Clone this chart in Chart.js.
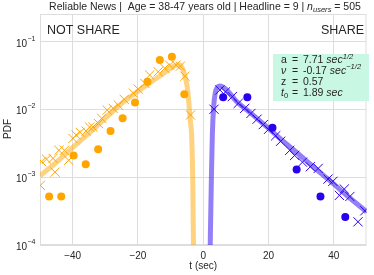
<!DOCTYPE html>
<html>
<head>
<meta charset="utf-8">
<script src="https://cdn.jsdelivr.net/npm/chart.js@4.4.0/dist/chart.umd.min.js"></script>
<style>
html, body { margin: 0; padding: 0; background: #fff; }
#wrap { width: 374px; height: 275px; }
</style>
</head>
<body>
<div id="wrap"><canvas id="pdfChart" width="374" height="275"></canvas></div>
<script>
// datos
const notShareDotT   = [-47.2, -43.5, -39.7, -36.0, -32.2, -28.4, -24.7, -20.9, -17.1, -13.3, -9.6, -5.8];
const notShareDotPdf = [5.2e-4, 5.2e-4, 2.1e-3, 1.55e-3, 2.6e-3, 4.8e-3, 7.4e-3, 0.0127, 0.0256, 0.0536, 0.060, 0.0168];

const notShareCrossT   = [-49.9, -49.5, -48.0, -46.0, -45.4, -44.2, -42.5, -41.2, -39.9, -38.9, -37.7, -35.9, -34.8, -33.8, -32.1, -31.1,
                          -29.4, -27.6, -26.0, -24.2, -21.4, -19.9, -17.9, -16.4, -13.8, -11.8, -10.3, -8.3, -7.0, -5.6, -3.9];
const notShareCrossPdf = [7.6e-4, 1.7e-3, 1.85e-3, 1.9e-3, 1.19e-3, 2.5e-3, 2.5e-3, 1.78e-3, 3.74e-3, 4.2e-3, 4.6e-3, 4.8e-3, 5.5e-3, 5.5e-3, 6.2e-3, 7.4e-3,
                          9.8e-3, 0.0104, 0.0116, 0.0141, 0.0174, 0.020, 0.0243, 0.0323, 0.0361, 0.0406, 0.0453, 0.0453, 0.0437, 0.031, 8.3e-3];

const shareDotT   = [6.1, 13.5, 21.2, 28.6, 35.9, 43.5];
const shareDotPdf = [0.0152, 0.0152, 5.37e-3, 1.3e-3, 5.2e-4, 2.6e-4];

const shareCrossT   = [3.3, 5.1, 6.8, 8.9, 10.7, 12.7, 14.6, 16.5, 18.4, 20.0, 22.2, 23.7, 26.5, 28.0, 30.4, 32.8,
                       35.2, 38.2, 39.7, 41.7, 43.2, 44.9, 47.4, 49.5];
const shareCrossPdf = [0.0101, 0.0194, 0.0182, 0.0155, 0.0123, 0.0104, 8.75e-3, 7.2e-3, 6.0e-3, 5.1e-3, 4.1e-3, 3.4e-3, 2.5e-3, 2.1e-3, 1.67e-3, 1.43e-3,
                       1.35e-3, 9.4e-4, 8.7e-4, 5.4e-4, 6.7e-4, 5.2e-4, 2.2e-4, 3.2e-4];

// curvas de ajuste (leidas punto a punto)
const notShareFitT   = [-50, -45, -40, -35, -30, -25, -20, -15, -12, -10, -8.5, -7.5, -6.5, -5.8, -5.0, -4.5, -4.0, -3.5, -3.2, -3.0, -2.8];
const notShareFitPdf = [1.05e-3, 1.66e-3, 2.75e-3, 4.47e-3, 7.41e-3, 0.0123, 0.0186, 0.0275, 0.0347, 0.0407, 0.0447, 0.0457, 0.0417, 0.0339, 0.0229, 0.0141, 7.08e-3, 3.55e-3, 7.9e-4, 1e-4, 1e-5];

const shareFitT   = [2.0, 2.2, 2.5, 2.8, 3.2, 3.7, 4.3, 5.0, 6.0, 7.5, 10, 15, 20, 25, 30, 35, 40, 45, 50];
const shareFitPdf = [3.2e-5, 1.6e-4, 1e-3, 4.5e-3, 0.0112, 0.0178, 0.0212, 0.0222, 0.0215, 0.0188, 0.0135, 8.5e-3, 5.25e-3, 3.24e-3, 2.04e-3, 1.26e-3, 7.9e-4, 4.9e-4, 3.1e-4];

const xTicks = [-40, -20, 0, 20, 40];
const yTicks = [1e-4, 1e-3, 1e-2, 1e-1];
const yTickExp = ['\u22124', '\u22123', '\u22122', '\u22121'];

const ORANGE = '#ffa500';
const BLUE = '#2a00f0';
const FONT = "'Liberation Sans', Arial, sans-serif";

function zip(xs, ys) {
    return xs.map((x, i) => ({ x: x, y: ys[i] }));
}

// dibuja trozos de texto con cursiva / super / subindice
function drawRuns(ctx, x, y, runs, size) {
    let cx = x;
    runs.forEach(r => {
        const s = r.small ? size * 0.72 : size;
        ctx.font = (r.italic ? 'italic ' : '') + s + 'px ' + FONT;
        ctx.fillText(r.text, cx, y + (r.dy || 0));
        cx += ctx.measureText(r.text).width;
    });
    return cx - x;
}

function runsWidth(ctx, runs, size) {
    let w = 0;
    runs.forEach(r => {
        const s = r.small ? size * 0.72 : size;
        ctx.font = (r.italic ? 'italic ' : '') + s + 'px ' + FONT;
        w += ctx.measureText(r.text).width;
    });
    return w;
}

const textPlugin = {
    id: 'textos',
    beforeDatasetsDraw(chart) {
        const ctx = chart.ctx;
        const a = chart.chartArea;
        ctx.save();
        ctx.strokeStyle = '#dddddd';
        ctx.lineWidth = 1;
        ctx.strokeRect(a.left + 0.5, a.top + 0.5, a.right - a.left - 1, a.bottom - a.top - 1);
        ctx.restore();
    },
    afterDraw(chart) {
        const ctx = chart.ctx;
        const yScale = chart.scales.y;
        ctx.save();
        ctx.fillStyle = '#262626';
        ctx.textBaseline = 'middle';

        // titulo
        const title = [
            { text: 'Reliable News |  Age = 38-47 years old | Headline = 9 | ' },
            { text: 'n', italic: true },
            { text: 'users', italic: true, small: true, dy: 3 },
            { text: ' = 505' }
        ];
        const tw = runsWidth(ctx, title, 10.5);
        drawRuns(ctx, 205 - tw / 2, 7, title, 10.5);

        // etiquetas eje y
        yTicks.forEach((v, i) => {
            const py = yScale.getPixelForValue(v);
            ctx.font = '10px ' + FONT;
            ctx.textAlign = 'right';
            ctx.fillText('10', 27, py + 2);
            ctx.font = '7px ' + FONT;
            ctx.textAlign = 'left';
            ctx.fillText(yTickExp[i], 27.5, py - 3);
        });

        ctx.textAlign = 'center';
        ctx.save();
        ctx.translate(8, 129);
        ctx.rotate(-Math.PI / 2);
        ctx.font = '10px ' + FONT;
        ctx.fillText('PDF', 0, 0);
        ctx.restore();

        // etiquetas de zona
        ctx.font = '12.5px ' + FONT;
        ctx.textAlign = 'left';
        ctx.fillText('NOT SHARE', 47, 31);
        ctx.textAlign = 'right';
        ctx.fillText('SHARE', 364, 31);

        // caja de parametros
        ctx.fillStyle = '#c8f8e4';
        ctx.fillRect(273, 54, 96, 47);
        ctx.fillStyle = '#262626';
        ctx.textAlign = 'left';
        const fs = 10.5;
        const lines = [
            { y: 60.5, label: [{ text: 'a' }], value: [{ text: '7.71 ' }, { text: 'sec', italic: true }, { text: '1/2', italic: true, small: true, dy: -4 }] },
            { y: 71, label: [{ text: '\u03bd', italic: true }], value: [{ text: '-0.17 ' }, { text: 'sec', italic: true }, { text: '\u22121/2', italic: true, small: true, dy: -4 }] },
            { y: 82, label: [{ text: 'z' }], value: [{ text: '0.57' }] },
            { y: 93, label: [{ text: 't', italic: true }, { text: '0', small: true, dy: 3 }], value: [{ text: '1.89 ' }, { text: 'sec', italic: true }] }
        ];
        lines.forEach(l => {
            drawRuns(ctx, 281, l.y, l.label, fs);
            ctx.font = fs + 'px ' + FONT;
            ctx.fillText('=', 292, l.y);
            drawRuns(ctx, 303, l.y, l.value, fs);
        });
        ctx.restore();
    }
};

const canvas = document.getElementById('pdfChart');
const chart = new Chart(canvas.getContext('2d'), {
    type: 'scatter',
    data: {
        datasets: [
            {
                label: 'no comparte (bins)',
                data: zip(notShareDotT, notShareDotPdf),
                pointStyle: 'circle', pointRadius: 4, pointHoverRadius: 4,
                backgroundColor: ORANGE, borderWidth: 0, order: 0, clip: 0
            },
            {
                label: 'comparte (bins)',
                data: zip(shareDotT, shareDotPdf),
                pointStyle: 'circle', pointRadius: 4, pointHoverRadius: 4,
                backgroundColor: BLUE, borderWidth: 0, order: 0, clip: 0
            },
            {
                label: 'no comparte',
                data: zip(notShareCrossT, notShareCrossPdf),
                pointStyle: 'crossRot', pointRadius: 6.5, pointHoverRadius: 6.5,
                borderColor: ORANGE, backgroundColor: ORANGE, borderWidth: 1, order: 1, clip: 0
            },
            {
                label: 'comparte',
                data: zip(shareCrossT, shareCrossPdf),
                pointStyle: 'crossRot', pointRadius: 6.5, pointHoverRadius: 6.5,
                borderColor: BLUE, backgroundColor: BLUE, borderWidth: 1, order: 1, clip: 0
            },
            {
                label: 'ajuste no comparte',
                data: zip(notShareFitT, notShareFitPdf),
                showLine: true, pointRadius: 0, borderWidth: 5,
                borderColor: 'rgba(255,165,0,0.5)', cubicInterpolationMode: 'monotone',
                order: 2, clip: 0
            },
            {
                label: 'ajuste comparte',
                data: zip(shareFitT, shareFitPdf),
                showLine: true, pointRadius: 0, borderWidth: 5,
                borderColor: 'rgba(42,0,240,0.5)', cubicInterpolationMode: 'monotone',
                order: 2, clip: 0
            }
        ]
    },
    options: {
        responsive: false,
        animation: false,
        devicePixelRatio: 1,
        layout: { padding: { top: 14, right: 3, left: 0, bottom: 0 } },
        plugins: {
            legend: { display: false },
            tooltip: { enabled: false }
        },
        scales: {
            x: {
                type: 'linear',
                min: -50,
                max: 50,
                afterBuildTicks: (scale) => { scale.ticks = xTicks.map(v => ({ value: v })); },
                afterFit: (scale) => { scale.height = 30; },
                grid: { color: '#dddddd', drawTicks: false },
                border: { display: false },
                ticks: {
                    padding: 5,
                    color: '#262626',
                    font: { family: FONT, size: 10 },
                    callback: (v) => (v < 0 ? '\u2212' + Math.abs(v) : String(v))
                },
                title: {
                    display: true,
                    text: 't (sec)',
                    color: '#262626',
                    font: { family: FONT, size: 10 },
                    padding: { top: 0, bottom: 3 }
                }
            },
            y: {
                type: 'logarithmic',
                min: 1e-4,
                max: Math.pow(10, -0.59),
                afterBuildTicks: (scale) => { scale.ticks = yTicks.map(v => ({ value: v })); },
                afterFit: (scale) => { scale.width = 40; },
                grid: { color: '#dddddd', drawTicks: false },
                border: { display: false },
                ticks: { display: false }
            }
        }
    },
    plugins: [textPlugin]
});
</script>
</body>
</html>
